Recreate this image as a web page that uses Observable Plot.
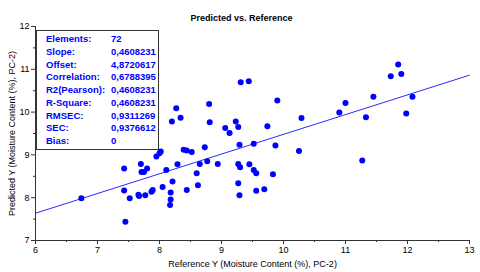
<!DOCTYPE html>
<html><head><meta charset="utf-8">
<script src="https://cdn.jsdelivr.net/npm/d3@7"></script>
<script src="https://cdn.jsdelivr.net/npm/@observablehq/plot@0.6"></script>
<style>
body{margin:0;background:#fff;font-family:"Liberation Sans",Arial,sans-serif;}
#wrap{position:relative;width:480px;height:272px;background:#fff;}
#stats{position:absolute;left:36px;top:30px;width:123px;height:120px;border:1px solid #333;background:#fff;box-sizing:border-box;z-index:0;}
#stats div{position:absolute;font-size:9.5px;font-weight:bold;color:#0000ff;line-height:1;white-space:nowrap;}
#plot{position:absolute;left:0;top:0;z-index:1;}
</style></head>
<body>
<div id="wrap"><div id="stats"></div><div id="plot"></div></div>
<script>
const title = "Predicted vs. Reference";
const xLabel = "Reference Y (Moisture Content (%), PC-2)";
const yLabel = "Predicted Y (Moisture Content (%), PC-2)";
const refY = [6.74,7.43,7.43,7.45,7.52,7.66,7.67,7.70,7.71,7.75,7.77,7.80,7.87,7.89,7.95,8.00,8.02,8.05,8.11,8.17,8.18,8.18,8.21,8.29,8.20,8.27,8.34,8.39,8.44,8.52,8.44,8.60,8.62,8.65,8.73,8.77,8.80,8.81,8.94,9.06,9.13,9.23,9.27,9.29,9.27,9.30,9.27,9.29,9.31,9.44,9.45,9.52,9.52,9.56,9.56,9.69,9.74,9.83,9.87,9.90,10.25,10.29,10.90,11.00,11.27,11.33,11.45,11.73,11.85,11.90,11.98,12.08];
const predY = [7.99,8.68,8.17,7.44,7.99,8.07,8.04,8.79,8.60,8.60,8.06,8.68,8.14,8.18,8.96,9.04,9.08,8.25,8.65,7.83,7.96,8.12,8.38,8.78,9.78,10.09,9.87,9.12,9.10,9.07,8.18,8.57,8.29,8.79,9.18,8.85,10.19,9.76,8.79,9.63,9.51,9.78,9.65,9.24,8.79,8.71,8.34,8.06,10.70,10.72,8.78,9.26,8.65,8.57,8.16,8.20,9.67,8.55,9.22,10.27,9.09,9.86,9.99,10.21,8.87,9.88,10.36,10.84,11.11,10.89,9.97,10.36];
const statLabels = ["Elements:","Slope:","Offset:","Correlation:","R2(Pearson):","R-Square:","RMSEC:","SEC:","Bias:"];
const statValues = ["72","0,4608231","4,8720617","0,6788395","0,4608231","0,4608231","0,9311269","0,9376612","0"];
const slope = 0.4608231, offset = 4.8720617;
const xDomain = [6, 13];
const yDomain = [7, 12];
const xTicks = [6,7,8,9,10,11,12,13];
const xMinor = [6.5,7.5,8.5,9.5,10.5,11.5,12.5];
const yTicks = [7,8,9,10,11,12];
const yMinor = [7.5,8.5,9.5,10.5,11.5];

const points = refY.map((x,i)=>({x, y:predY[i]}));
const fit = xDomain.map(x=>({x, y: slope*x + offset}));

const stats = document.getElementById("stats");
statLabels.forEach((l,i)=>{
  const a = document.createElement("div"); a.textContent = l;
  a.style.left = "9px"; a.style.top = (3 + i*12.75) + "px"; stats.appendChild(a);
  const b = document.createElement("div"); b.textContent = statValues[i];
  b.style.left = "74px"; b.style.top = (3 + i*12.75) + "px"; stats.appendChild(b);
});

const chart = Plot.plot({
  width: 480, height: 272,
  marginTop: 26, marginRight: 11, marginBottom: 32, marginLeft: 35,
  style: {fontFamily: "'Liberation Sans', Arial, sans-serif", fontSize: "9px", color: "#000", background: "transparent"},
  x: {domain: xDomain},
  y: {domain: yDomain},
  marks: [
    Plot.ruleY([yDomain[0]], {stroke: "#333"}),
    Plot.ruleX([xDomain[0]], {stroke: "#333"}),
    Plot.axisX(xTicks, {tickSize: 4, tickPadding: 2, stroke: "#333", label: xLabel, labelAnchor: "center", labelArrow: "none", labelOffset: 26}),
    Plot.axisX(xMinor, {tickSize: 2, stroke: "#333", tickFormat: () => "", label: null}),
    Plot.axisY(yTicks, {tickSize: 4, tickPadding: 2, stroke: "#333", label: yLabel, labelAnchor: "center", labelArrow: "none", labelOffset: 27}),
    Plot.axisY(yMinor, {tickSize: 2, stroke: "#333", tickFormat: () => "", label: null}),
    Plot.line(fit, {x: "x", y: "y", stroke: "#2a2aff", strokeWidth: 1}),
    Plot.dot(points, {x: "x", y: "y", r: 3, fill: "#0000ff", stroke: "none"}),
    Plot.text([title], {frameAnchor: "top", dx: -11, dy: -12, fontWeight: "bold", fontSize: 9})
  ]
});
document.getElementById("plot").appendChild(chart);
</script>
</body></html>
